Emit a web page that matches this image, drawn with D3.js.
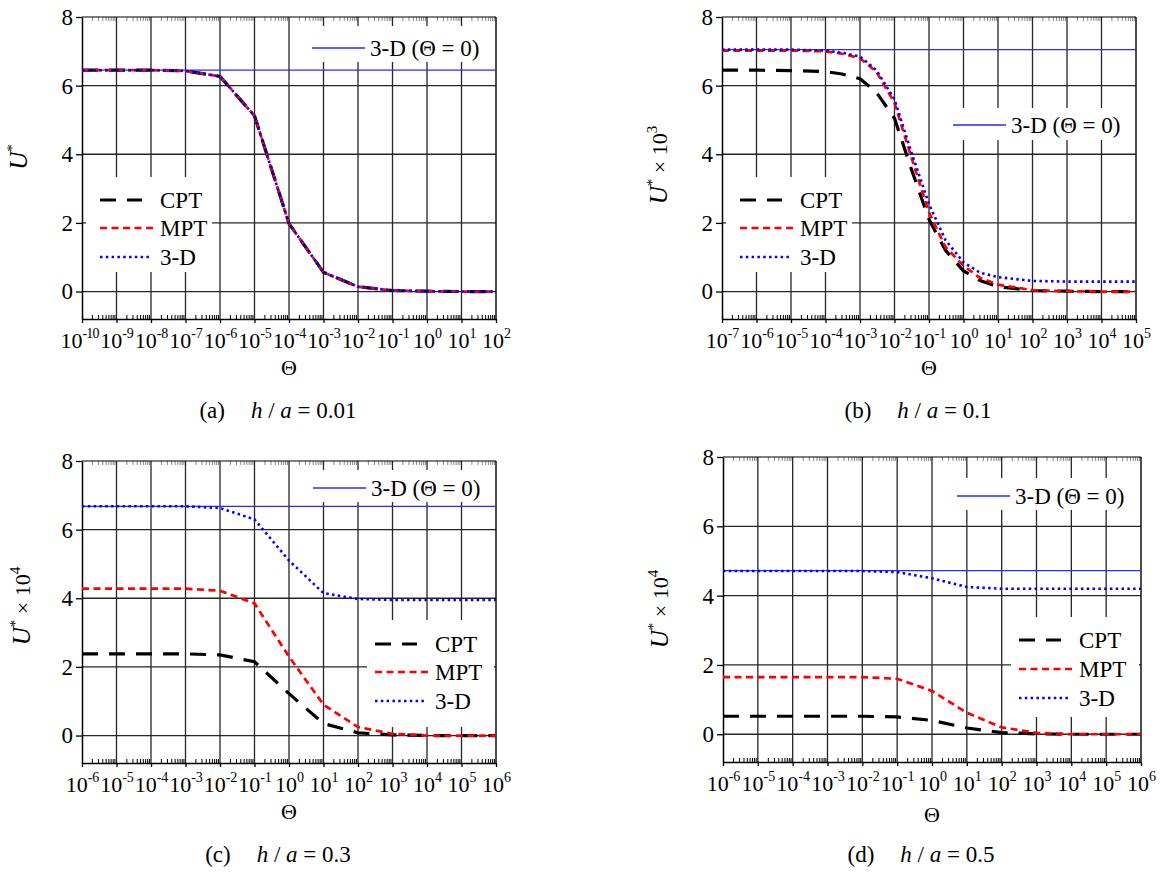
<!DOCTYPE html>
<html><head><meta charset="utf-8">
<script src="https://cdnjs.cloudflare.com/ajax/libs/d3/7.8.5/d3.min.js"></script>
<style>
body{margin:0;background:#fff}
svg text, svg tspan{font-family:"Liberation Serif","Times New Roman",Times,"DejaVu Serif",serif !important;fill:#000}
</style>
</head><body>
<svg id="c" width="1160" height="872"></svg>
<script>
// ---------------- DATA ----------------
// Panel (a) h/a = 0.01
const expA   = [-10,-9,-8,-7,-6,-5,-4,-3,-2,-1,0,1,2];
const thetaA = [1e-10,1e-9,1e-8,1e-7,1e-6,1e-5,1e-4,1e-3,1e-2,1e-1,1,10,100];
const cptA   = [6.45,6.45,6.45,6.43,6.27,5.12,1.98,0.56,0.14,0.03,0.01,0.0,0.0];
const mptA   = [6.45,6.45,6.45,6.43,6.27,5.12,1.98,0.56,0.14,0.03,0.01,0.0,0.0];
const d3dA   = [6.45,6.45,6.45,6.43,6.27,5.12,1.98,0.56,0.14,0.03,0.01,0.0,0.0];
const zeroA  = 6.45;

// Panel (b) h/a = 0.1  (U* x 10^3)
const expB   = [-7,-6,-5,-4,-3,-2,-1,0,1,2,3,4,5];
const thetaB = [1e-7,1e-6,1e-5,1e-4,3e-4,1e-3,3e-3,1e-2,3e-2,1e-1,3e-1,1,3,10,100,1e3,1e4,1e5];
const cptB   = [6.45,6.45,6.44,6.41,6.34,6.2,5.8,5.05,3.6,2.1,1.2,0.6,0.32,0.14,0.03,0.01,0.0,0.0];
const mptB   = [7.02,7.02,7.02,7.0,6.93,6.8,6.4,5.5,3.95,2.3,1.3,0.75,0.4,0.2,0.04,0.01,0.0,0.0];
const d3dB   = [7.05,7.05,7.05,7.02,6.96,6.85,6.45,5.6,4.1,2.55,1.5,0.85,0.55,0.42,0.31,0.29,0.29,0.29];
const zeroB  = 7.05;

// Panel (c) h/a = 0.3  (U* x 10^4)
const expC   = [-6,-5,-4,-3,-2,-1,0,1,2,3,4,5,6];
const thetaC = [1e-6,1e-5,1e-4,1e-3,1e-2,1e-1,1,10,100,1e3,1e4,1e5,1e6];
const cptC   = [2.38,2.38,2.38,2.38,2.35,2.15,1.22,0.35,0.08,0.02,0.0,0.0,0.0];
const mptC   = [4.28,4.28,4.28,4.28,4.22,3.85,2.3,0.9,0.25,0.05,0.0,0.0,0.0];
const d3dC   = [6.68,6.68,6.68,6.68,6.63,6.3,5.1,4.15,3.98,3.95,3.95,3.95,3.95];
const zeroC  = 6.68;

// Panel (d) h/a = 0.5  (U* x 10^4)
const expD   = [-6,-5,-4,-3,-2,-1,0,1,2,3,4,5,6];
const thetaD = [1e-6,1e-5,1e-4,1e-3,1e-2,1e-1,1,10,100,1e3,1e4,1e5,1e6];
const cptD   = [0.52,0.52,0.52,0.52,0.52,0.5,0.4,0.18,0.05,0.01,0.0,0.0,0.0];
const mptD   = [1.65,1.65,1.65,1.65,1.65,1.6,1.25,0.62,0.2,0.04,0.0,0.0,0.0];
const d3dD   = [4.71,4.71,4.71,4.71,4.71,4.68,4.5,4.25,4.2,4.2,4.2,4.2,4.2];
const zeroD  = 4.72;

const yTicks  = [0,2,4,6,8];
const yDomain = [-0.8, 8];
const seriesNames = ["CPT","MPT","3-D"];
const zeroName = "3-D (\u0398 = 0)";
const panelLetters = ["a","b","c","d"];
const haValues = ["0.01","0.1","0.3","0.5"];
const yExponents = ["", "3", "4", "4"];

// ---------------- STYLES / LAYOUT ----------------
const FONT = '"Liberation Serif","Times New Roman",Times,"DejaVu Serif",serif';
const styles = {
  "CPT": {stroke:"#000", width:3.2, dash:"16,11"},
  "MPT": {stroke:"#ff0000", width:2.7, dash:"7,4.5"},
  "3-D": {stroke:"#0000ff", width:2.6, dash:"2.5,3.3"}
};
const zeroStyle = {stroke:"#2a2aff", width:1.3};
const gridColor = "#262626";

const layouts = [
  {L:82, R:496, T:17, B:319, ylx:27, yly:157, xtY:375, subY:418,
   top:{box:[302,26,490,62], lx:312, ly:48},
   low:{box:[86,177,212,272], lx:100, ly:[200,228,257]}},
  {L:722, R:1136, T:17, B:319, ylx:667, yly:165, xtY:375, subY:418,
   top:{box:[945,108,1134,140], lx:953, ly:125},
   low:{box:[726,177,852,272], lx:740, ly:[200,228,257]}},
  {L:82, R:496, T:461, B:763, ylx:30, yly:606, xtY:819, subY:862,
   top:{box:[305,470,494,502], lx:313, ly:488},
   low:{box:[367,620,494,727], lx:375, ly:[644,672,701]}},
  {L:723, R:1141, T:457, B:762, ylx:668, yly:609, xtY:822, subY:862,
   top:{box:[950,478,1139,510], lx:957, ly:496},
   low:{box:[1011,617,1139,717], lx:1019, ly:[640,669,698]}}
];

const panels = [
  {exps:expA, theta:thetaA, series:[cptA,mptA,d3dA], zero:zeroA},
  {exps:expB, theta:thetaB, series:[cptB,mptB,d3dB], zero:zeroB},
  {exps:expC, theta:thetaC, series:[cptC,mptC,d3dC], zero:zeroC},
  {exps:expD, theta:thetaD, series:[cptD,mptD,d3dD], zero:zeroD}
];

const svg = d3.select("#c").attr("font-family", FONT);

function drawPanel(p, lay, idx) {
  const g = svg.append("g");
  const e0 = p.exps[0], e1 = p.exps[p.exps.length-1];
  const x = d3.scaleLog().domain([Math.pow(10,e0), Math.pow(10,e1)]).range([lay.L, lay.R]);
  const y = d3.scaleLinear().domain(yDomain).range([lay.B, lay.T]);
  const decades = p.exps.map(e => Math.pow(10, e));

  // grid
  g.append("g").selectAll("line").data(decades.slice(1, -1)).enter().append("line")
    .attr("x1", d => x(d)).attr("x2", d => x(d))
    .attr("y1", lay.T).attr("y2", lay.B)
    .attr("stroke", gridColor).attr("stroke-width", 1.3);
  g.append("g").selectAll("line").data(yTicks.filter(v => v < 8)).enter().append("line")
    .attr("x1", lay.L).attr("x2", lay.R)
    .attr("y1", d => y(d)).attr("y2", d => y(d))
    .attr("stroke", gridColor).attr("stroke-width", 1.3);

  // minor ticks (top and bottom, inward)
  const minors = [];
  p.exps.slice(0, -1).forEach(e => { for (let k = 2; k <= 9; k++) minors.push(k * Math.pow(10, e)); });
  g.append("g").selectAll("line").data(minors).enter().append("line")
    .attr("x1", d => x(d)).attr("x2", d => x(d))
    .attr("y1", lay.B).attr("y2", lay.B - 4)
    .attr("stroke", "#000").attr("stroke-width", 1);
  g.append("g").selectAll("line").data(minors).enter().append("line")
    .attr("x1", d => x(d)).attr("x2", d => x(d))
    .attr("y1", lay.T).attr("y2", lay.T + 4)
    .attr("stroke", "#888").attr("stroke-width", 1);

  // frame top and right
  g.append("line").attr("x1", lay.L).attr("x2", lay.R).attr("y1", lay.T).attr("y2", lay.T)
    .attr("stroke", "#000").attr("stroke-width", 1.2);
  g.append("line").attr("x1", lay.R).attr("x2", lay.R).attr("y1", lay.T).attr("y2", lay.B)
    .attr("stroke", "#000").attr("stroke-width", 1.4);

  // x axis
  const xa = g.append("g").attr("transform", `translate(0,${lay.B})`)
    .call(d3.axisBottom(x).tickValues(decades).tickSize(4).tickSizeOuter(0).tickFormat(() => ""));
  xa.attr("font-family", FONT);
  xa.select(".domain").attr("stroke-width", 1.5);
  xa.selectAll(".tick line").attr("stroke-width", 1.3);
  xa.selectAll(".tick text").remove();
  xa.selectAll(".tick").each(function(d, i) {
    const ex = String(p.exps[i]);
    const t = d3.select(this).append("text")
      .attr("x", ex.length > 2 ? -3 : 0)
      .attr("y", 29).attr("dy", 0).attr("text-anchor", "middle")
      .attr("font-size", 22).attr("fill", "#000");
    t.append("tspan").text("10");
    t.append("tspan").attr("font-size", 14).attr("dy", -10)
      .attr("letter-spacing", ex.length > 2 ? -0.8 : 0).text(ex);
  });

  // y axis
  const ya = g.append("g").attr("transform", `translate(${lay.L},0)`)
    .call(d3.axisLeft(y).tickValues(yTicks).tickSize(6).tickSizeOuter(0).tickPadding(3).tickFormat(d3.format("d")));
  ya.attr("font-family", FONT);
  ya.select(".domain").attr("stroke-width", 1.5);
  ya.selectAll(".tick line").attr("stroke-width", 1.3);
  ya.selectAll(".tick text").attr("font-size", 23).attr("fill", "#000");

  // Theta = 0 reference line
  g.append("line").attr("x1", lay.L).attr("x2", lay.R)
    .attr("y1", y(p.zero)).attr("y2", y(p.zero))
    .attr("stroke", zeroStyle.stroke).attr("stroke-width", zeroStyle.width);

  // curves
  const line = d3.line().x(d => x(d[0])).y(d => y(d[1]));
  p.series.forEach((vals, si) => {
    const st = styles[seriesNames[si]];
    g.append("path").datum(p.theta.map((t, k) => [t, vals[k]]))
      .attr("d", line).attr("fill", "none")
      .attr("stroke", st.stroke).attr("stroke-width", st.width)
      .attr("stroke-dasharray", st.dash);
  });

  // top legend
  const tb = lay.top.box;
  g.append("rect").attr("x", tb[0]).attr("y", tb[1]).attr("width", tb[2]-tb[0]).attr("height", tb[3]-tb[1]).attr("fill", "#fff");
  g.append("line").attr("x1", lay.top.lx).attr("x2", lay.top.lx + 53)
    .attr("y1", lay.top.ly).attr("y2", lay.top.ly)
    .attr("stroke", zeroStyle.stroke).attr("stroke-width", zeroStyle.width);
  g.append("text").attr("x", lay.top.lx + 58).attr("y", lay.top.ly).attr("dy", "0.35em")
    .attr("font-size", 23).text(zeroName);

  // lower legend
  const lb = lay.low.box;
  g.append("rect").attr("x", lb[0]).attr("y", lb[1]).attr("width", lb[2]-lb[0]).attr("height", lb[3]-lb[1]).attr("fill", "#fff");
  const lens = [42, 55, 52];
  seriesNames.forEach((nm, si) => {
    const st = styles[nm];
    const ly = lay.low.ly[si];
    g.append("line").attr("x1", lay.low.lx).attr("x2", lay.low.lx + lens[si])
      .attr("y1", ly).attr("y2", ly)
      .attr("stroke", st.stroke).attr("stroke-width", st.width).attr("stroke-dasharray", st.dash);
    g.append("text").attr("x", lay.low.lx + 60).attr("y", ly).attr("dy", "0.35em")
      .attr("font-size", 23).text(nm);
  });

  // y label
  const yl = svg.append("text").attr("transform", `translate(${lay.ylx},${lay.yly}) rotate(-90)`)
    .attr("text-anchor", "middle").attr("font-size", 22);
  yl.append("tspan").attr("font-style", "italic").attr("font-size", 25).text("U");
  yl.append("tspan").attr("font-size", 15).attr("dy", -10).text("*");
  if (yExponents[idx]) {
    yl.append("tspan").attr("dy", 10).text(" \u00d7 10");
    yl.append("tspan").attr("font-size", 15).attr("dy", -10).text(yExponents[idx]);
  }

  // x title
  svg.append("text").attr("x", (lay.L + lay.R) / 2).attr("y", lay.xtY)
    .attr("text-anchor", "middle").attr("font-size", 22).text("\u0398");

  // subtitle (centred slightly left of the plot centre)
  const s = svg.append("text").attr("x", (lay.L + lay.R) / 2 - 11).attr("y", lay.subY)
    .attr("text-anchor", "middle").attr("font-size", 23).style("white-space", "pre");
  s.append("tspan").text("(" + panelLetters[idx] + ")");
  s.append("tspan").attr("dx", 26).attr("font-style", "italic").text("h");
  s.append("tspan").text(" / ");
  s.append("tspan").attr("font-style", "italic").text("a");
  s.append("tspan").text(" = " + haValues[idx]);
}

panels.forEach((p, i) => drawPanel(p, layouts[i], i));
</script>
</body></html>
